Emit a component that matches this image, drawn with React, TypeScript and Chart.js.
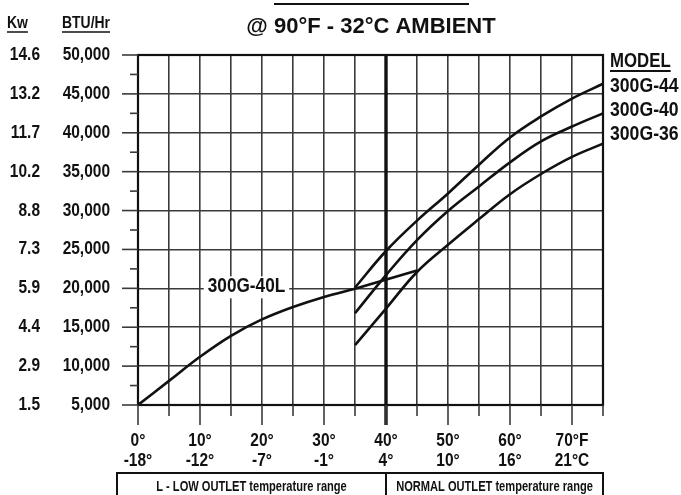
import React, { useEffect, useRef } from 'react';
import { Chart, registerables } from 'chart.js';

Chart.register(...registerables);

const FONT = '"Liberation Sans", Arial, sans-serif';
const SX = 0.86; // horizontal compression to imitate a condensed face
const INK = '#111111';
const GRID = '#3a3a3a';

// Outlet temperature (°F) and capacity (BTU/Hr)
const model40LX = [0, 5, 10, 15, 20, 25, 30, 35];
const model40LY = [5000, 8100, 11200, 13900, 16000, 17600, 18900, 19950];
const model40LExtX = [35, 45];
const model40LExtY = [19950, 22300];
const modelX = [35, 40, 45, 50, 55, 60, 65, 70, 75];
const model44Y = [20100, 24800, 28700, 32200, 35900, 39400, 42100, 44400, 46300];
const model40Y = [16800, 21700, 26200, 29950, 33100, 36200, 38900, 40800, 42500];
const model36Y = [12700, 17400, 22100, 25600, 28900, 32100, 34700, 36900, 38600];

const fLabels = ['0°', '10°', '20°', '30°', '40°', '50°', '60°', '70°F'];
const cLabels = ['-18°', '-12°', '-7°', '-1°', '4°', '10°', '16°', '21°C'];
const btuLabels = ['5,000', '10,000', '15,000', '20,000', '25,000', '30,000', '35,000', '40,000', '45,000', '50,000'];
const kwLabels = ['1.5', '2.9', '4.4', '5.9', '7.3', '8.8', '10.2', '11.7', '13.2', '14.6'];
const modelNames = ['300G-44', '300G-40', '300G-36'];
const lowModelName = '300G-40L';
const titleText = '@ 90°F - 32°C AMBIENT';
const lowRangeText = 'L - LOW OUTLET temperature range';
const normalRangeText = 'NORMAL OUTLET temperature range';

const pts = (xs: number[], ys: number[]) => xs.map((x, i) => ({ x, y: ys[i] }));

function txt(ctx: CanvasRenderingContext2D, text: string, x: number, y: number, size: number, align: CanvasTextAlign = 'left', under = 0, sx = SX): number {
  ctx.save();
  ctx.font = `bold ${size}px ${FONT}`;
  const w = ctx.measureText(text).width * sx;
  ctx.translate(x, y);
  ctx.scale(sx, 1);
  ctx.textAlign = align;
  ctx.textBaseline = 'middle';
  ctx.fillText(text, 0, 0);
  ctx.restore();
  if (under) {
    const x0 = align === 'center' ? x - w / 2 : align === 'right' ? x - w : x;
    ctx.beginPath();
    ctx.moveTo(x0, y + under);
    ctx.lineTo(x0 + w, y + under);
    ctx.stroke();
  }
  return w;
}

const decor = {
  id: 'decor',
  beforeDatasetsDraw(chart: any) {
    const { ctx, chartArea: a, scales } = chart;
    const xs = scales.x;
    const ys = scales.y;
    ctx.save();
    ctx.strokeStyle = INK;
    ctx.lineWidth = 2.2;
    ctx.strokeRect(a.left, a.top, a.right - a.left, a.bottom - a.top);
    const x40 = xs.getPixelForValue(40);
    ctx.lineWidth = 3.4;
    ctx.beginPath();
    ctx.moveTo(x40, a.top);
    ctx.lineTo(x40, a.bottom + 20);
    ctx.stroke();
    ctx.lineWidth = 1.6;
    ctx.strokeStyle = GRID;
    for (let v = 5000; v <= 50000; v += 2500) {
      const y = ys.getPixelForValue(v);
      const len = v % 5000 === 0 ? 16 : 8;
      ctx.beginPath();
      ctx.moveTo(a.left - len, y);
      ctx.lineTo(a.left, y);
      ctx.stroke();
    }
    for (let t = 0; t <= 75; t += 5) {
      const x = xs.getPixelForValue(t);
      const len = t % 10 === 0 ? 20 : 11;
      ctx.beginPath();
      ctx.moveTo(x, a.bottom);
      ctx.lineTo(x, a.bottom + len);
      ctx.stroke();
    }
    ctx.restore();
  },
  afterDatasetsDraw(chart: any) {
    const { ctx, scales } = chart;
    const x = scales.x.getPixelForValue(17.5);
    const y = scales.y.getPixelForValue(20000);
    ctx.save();
    ctx.font = `bold 20px ${FONT}`;
    const w = ctx.measureText(lowModelName).width * SX;
    ctx.fillStyle = '#ffffff';
    ctx.fillRect(x - w / 2 - 4, y - 12, w + 8, 22);
    ctx.fillStyle = INK;
    txt(ctx, lowModelName, x, y - 2, 20, 'center');
    ctx.restore();
  },
  afterDraw(chart: any) {
    const { ctx, chartArea: a, scales } = chart;
    const xs = scales.x;
    const ys = scales.y;
    ctx.save();
    ctx.fillStyle = INK;
    ctx.strokeStyle = INK;
    // axis labels placed from the scales' own ticks
    ys.ticks.forEach((t: any) => {
      const y = ys.getPixelForValue(t.value);
      const idx = Math.round((t.value - 5000) / 5000);
      txt(ctx, btuLabels[idx], 110, y, 18, 'right');
      txt(ctx, kwLabels[idx], 40, y, 18, 'right');
    });
    xs.ticks.forEach((t: any) => {
      if (t.value % 10 !== 0) return;
      const x = xs.getPixelForValue(t.value);
      const idx = t.value / 10;
      txt(ctx, fLabels[idx], x, 441, 18, 'center');
      txt(ctx, cLabels[idx], x, 461, 18, 'center');
    });
    // top fragment line
    ctx.lineWidth = 2;
    ctx.beginPath();
    ctx.moveTo(274, 4);
    ctx.lineTo(469, 4);
    ctx.stroke();
    txt(ctx, titleText, 371, 27, 22, 'center', 0, 1.0);
    ctx.lineWidth = 1.5;
    txt(ctx, 'Kw', 7, 23, 17, 'left', 9, 0.82);
    txt(ctx, 'BTU/Hr', 62, 23, 17, 'left', 9, 0.82);
    ctx.lineWidth = 1.8;
    const lx = a.right + 7;
    txt(ctx, 'MODEL', lx, 61, 21, 'left', 10, 0.8);
    const ly = [86, 110, 134];
    modelNames.forEach((m, i) => txt(ctx, m, lx, ly[i], 21, 'left', 0, 0.84));
    // range boxes
    const boxTop = 473;
    const bl = 117;
    const br = a.right;
    const x40 = xs.getPixelForValue(40);
    ctx.lineWidth = 2;
    ctx.beginPath();
    ctx.moveTo(bl, chart.height + 2);
    ctx.lineTo(bl, boxTop);
    ctx.lineTo(br, boxTop);
    ctx.lineTo(br, chart.height + 2);
    ctx.moveTo(x40, boxTop);
    ctx.lineTo(x40, chart.height + 2);
    ctx.stroke();
    txt(ctx, lowRangeText, (bl + x40) / 2, 487, 15, 'center', 0, 0.74);
    txt(ctx, normalRangeText, (x40 + br) / 2, 487, 15, 'center', 0, 0.74);
    ctx.restore();
  },
};

export default function App() {
  const ref = useRef<HTMLCanvasElement | null>(null);
  useEffect(() => {
    if (!ref.current) return;
    const lineStyle = {
      borderColor: INK,
      borderWidth: 2.6,
      pointRadius: 0,
      fill: false,
      tension: 0.4,
    };
    const chart = new Chart(ref.current, {
      type: 'line',
      data: {
        datasets: [
          { label: lowModelName, data: pts(model40LX, model40LY), ...lineStyle },
          { label: lowModelName + ' ext', data: pts(model40LExtX, model40LExtY), ...lineStyle, tension: 0 },
          { label: modelNames[0], data: pts(modelX, model44Y), ...lineStyle },
          { label: modelNames[1], data: pts(modelX, model40Y), ...lineStyle },
          { label: modelNames[2], data: pts(modelX, model36Y), ...lineStyle },
        ],
      },
      options: {
        animation: false,
        responsive: false,
        devicePixelRatio: 1,
        layout: { padding: { top: 55, right: 78, left: 0, bottom: 0 } },
        plugins: { legend: { display: false }, tooltip: { enabled: false }, title: { display: false } },
        scales: {
          x: {
            type: 'linear',
            min: 0,
            max: 75,
            afterFit: (s: any) => { s.height = 90; },
            grid: { color: GRID, lineWidth: 1.6, drawTicks: false },
            border: { display: false },
            ticks: { stepSize: 5, autoSkip: false, display: false },
          },
          y: {
            type: 'linear',
            position: 'left',
            weight: 0,
            min: 5000,
            max: 50000,
            afterFit: (s: any) => { s.width = 88; },
            grid: { color: GRID, lineWidth: 1.6, drawTicks: false },
            border: { display: false },
            ticks: { stepSize: 5000, display: false },
          },
          kw: {
            type: 'linear',
            position: 'left',
            weight: 1,
            min: 5000,
            max: 50000,
            afterFit: (s: any) => { s.width = 50; },
            grid: { display: false, drawTicks: false },
            border: { display: false },
            ticks: { stepSize: 5000, display: false },
          },
        },
      },
      plugins: [decor],
    } as any);
    return () => chart.destroy();
  }, []);
  return (
    <div style={{ position: 'absolute', left: 0, top: 0, width: 681, height: 495, background: '#fff' }}>
      <canvas ref={ref} width={681} height={495} style={{ display: 'block', width: 681, height: 495 }} />
    </div>
  );
}
